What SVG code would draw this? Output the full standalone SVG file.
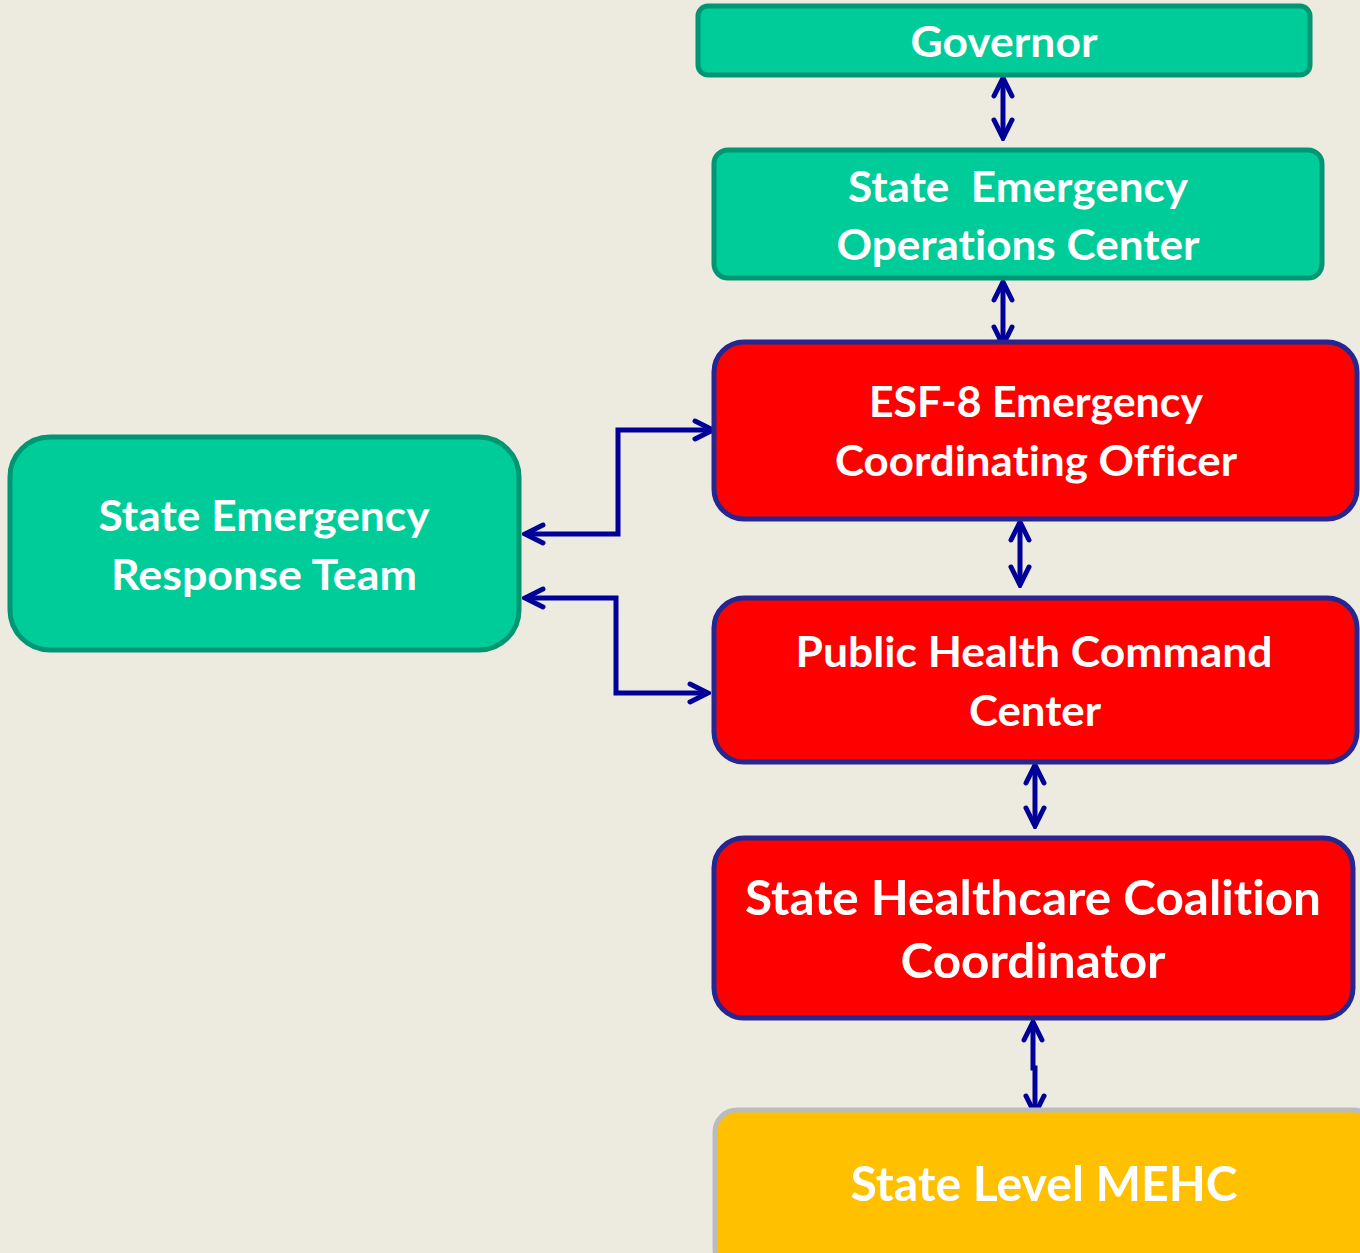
<svg xmlns="http://www.w3.org/2000/svg" width="1360" height="1253" viewBox="0 0 1360 1253">
<style>
.bg{fill:#EDEBE0}
.green{fill:#00CC99;stroke:#009674;stroke-width:5}
.red{fill:#FF0000;stroke:#262690;stroke-width:5}
.gold{fill:#FFC000;stroke:#BBBBBB;stroke-width:5}
.t{font-family:Lato,"Open Sans","Liberation Sans",sans-serif;font-weight:bold;fill:#FFFFFF;text-anchor:middle;font-size:42px;font-variant-ligatures:none}
.tl{font-size:48px}
.c{fill:none;stroke:#000099;stroke-width:5;stroke-linejoin:miter}
</style>
<defs>
<marker id="ah" viewBox="0 0 24 24" refX="21" refY="12" markerWidth="24" markerHeight="24" markerUnits="userSpaceOnUse" orient="auto-start-reverse">
<path d="M3,3 L21,12 L3,21" fill="none" stroke="#000099" stroke-width="5" stroke-linecap="round" stroke-linejoin="miter"/>
</marker>
</defs>
<rect class="bg" x="0" y="0" width="1360" height="1253"/>
<g id="connectors">
<path class="c" d="M1003,78 L1003,138" marker-start="url(#ah)" marker-end="url(#ah)"/>
<path class="c" d="M1003,282 L1003,345" marker-start="url(#ah)" marker-end="url(#ah)"/>
<path class="c" d="M1020,522 L1020,585" marker-start="url(#ah)" marker-end="url(#ah)"/>
<path class="c" d="M1035,765 L1035,826" marker-start="url(#ah)" marker-end="url(#ah)"/>
<path class="c" d="M1033,1022 L1033,1068 L1035,1068 L1035,1114" marker-start="url(#ah)" marker-end="url(#ah)"/>
<path class="c" d="M525,534 L618,534 L618,430 L713,430" marker-start="url(#ah)" marker-end="url(#ah)"/>
<path class="c" d="M525,598 L616,598 L616,693 L708,693" marker-start="url(#ah)" marker-end="url(#ah)"/>
</g>
<g id="governor">
<rect class="green" x="698" y="6" width="612" height="69" rx="10"/>
<text class="t" x="1004" y="57" textLength="187" lengthAdjust="spacingAndGlyphs">Governor</text>
</g>
<g id="seoc">
<rect class="green" x="714" y="150" width="608" height="128" rx="14"/>
<text class="t" x="1018" y="202" textLength="340" lengthAdjust="spacingAndGlyphs" xml:space="preserve">State  Emergency</text>
<text class="t" x="1018" y="260" textLength="363" lengthAdjust="spacingAndGlyphs">Operations Center</text>
</g>
<g id="esf8">
<rect class="red" x="714" y="342" width="643" height="177" rx="30"/>
<text class="t" x="1036" y="417" textLength="334" lengthAdjust="spacingAndGlyphs">ESF-8 Emergency</text>
<text class="t" x="1036" y="476" textLength="402" lengthAdjust="spacingAndGlyphs">Coordinating Officer</text>
</g>
<g id="phcc">
<rect class="red" x="714" y="598" width="643" height="164" rx="30"/>
<text class="t" x="1034" y="667" textLength="477" lengthAdjust="spacingAndGlyphs">Public Health Command</text>
<text class="t" x="1035" y="726" textLength="132" lengthAdjust="spacingAndGlyphs">Center</text>
</g>
<g id="shcc">
<rect class="red" x="714" y="838" width="639" height="180" rx="30"/>
<text class="t tl" x="1033" y="915" textLength="576" lengthAdjust="spacingAndGlyphs">State Healthcare Coalition</text>
<text class="t tl" x="1033" y="978" textLength="265" lengthAdjust="spacingAndGlyphs">Coordinator</text>
</g>
<g id="mehc">
<rect class="gold" x="715" y="1110" width="660" height="160" rx="22"/>
<text class="t tl" x="1044" y="1201" textLength="387" lengthAdjust="spacingAndGlyphs">State Level MEHC</text>
</g>
<g id="sert">
<rect class="green" x="10" y="437" width="509" height="213" rx="40"/>
<text class="t" x="264" y="531" textLength="331" lengthAdjust="spacingAndGlyphs">State Emergency</text>
<text class="t" x="264" y="590" textLength="306" lengthAdjust="spacingAndGlyphs">Response Team</text>
</g>
</svg>
